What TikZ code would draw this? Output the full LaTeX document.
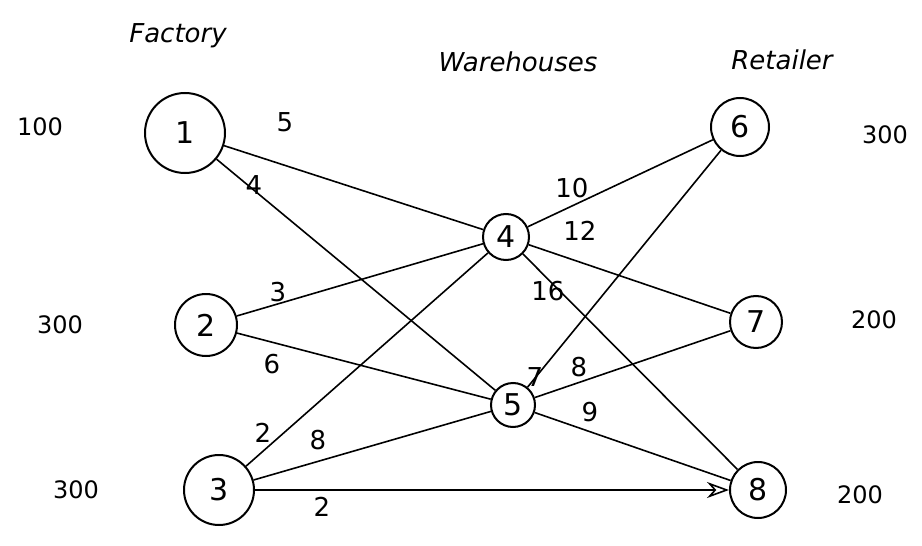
\documentclass[tikz,border=0pt]{standalone}
\usepackage{fontspec}
\setmainfont{DejaVu Sans}
\usetikzlibrary{arrows.meta}
\begin{document}
\begin{tikzpicture}[x=1pt,y=-1pt,
  nd/.style={draw,circle,line width=2pt,inner sep=0pt,font=\fontsize{30}{32}\selectfont},
  ed/.style={line width=1.6pt},
  wt/.style={font=\fontsize{26}{28}\selectfont},
  qty/.style={font=\fontsize{24}{26}\selectfont},
  ttl/.style={font=\fontsize{26}{28}\selectfont\itshape}]
\useasboundingbox (0,0) rectangle (922,546);
\node[nd,minimum width=80pt] (n1) at (185,133) {1};
\node[nd,minimum width=62pt] (n2) at (206,325) {2};
\node[nd,minimum width=70pt] (n3) at (219,490) {3};
\node[nd,minimum width=46pt] (n4) at (506,237) {4};
\node[nd,minimum width=44pt] (n5) at (513,405) {5};
\node[nd,minimum width=58pt] (n6) at (740,127) {6};
\node[nd,minimum width=52pt] (n7) at (756,322) {7};
\node[nd,minimum width=56pt] (n8) at (758,490) {8};
% titles
\node[ttl] (t1) at (178,36) {Factory};
\node[ttl] (t2) at (518,62) {Warehouses};
\node[ttl] (t3) at (782,60) {Retailer};
% quantities
\node[qty] (q1) at (40,127) {100};
\node[qty] (q2) at (60,325) {300};
\node[qty] (q3) at (76,490) {300};
\node[qty] (q6) at (885,135) {300};
\node[qty] (q7) at (874,320) {200};
\node[qty] (q8) at (860,495) {200};
% edges
\draw[ed] (n1) -- (n4);
\draw[ed] (n1) -- (n5);
\draw[ed] (n2) -- (n4);
\draw[ed] (n2) -- (n5);
\draw[ed] (n3) -- (n4);
\draw[ed] (n3) -- (n5);
\draw[ed,-{Stealth[open,length=22pt,width=16pt]}] (n3) -- (n8);
\draw[ed] (n4) -- (n6);
\draw[ed] (n4) -- (n7);
\draw[ed] (n4) -- (n8);
\draw[ed] (n5) -- (n6);
\draw[ed] (n5) -- (n7);
\draw[ed] (n5) -- (n8);
% weights
\node[wt] (w14) at (285,122) {5};
\node[wt] (w15) at (254,185) {4};
\node[wt] (w24) at (278,292) {3};
\node[wt] (w25) at (272,364) {6};
\node[wt] (w34) at (263,433) {2};
\node[wt] (w35) at (318,440) {8};
\node[wt] (w38) at (322,507) {2};
\node[wt] (w46) at (572,188) {10};
\node[wt] (w47) at (580,231) {12};
\node[wt] (w48) at (548,291) {16};
\node[wt] (w56) at (535,377) {7};
\node[wt] (w57) at (579,367) {8};
\node[wt] (w58) at (590,412) {9};
\end{tikzpicture}
\end{document}
